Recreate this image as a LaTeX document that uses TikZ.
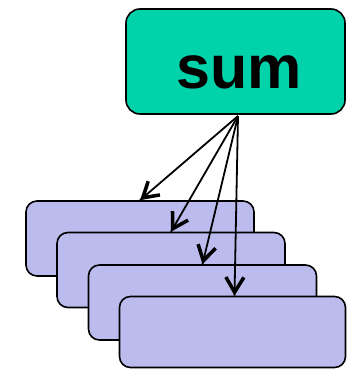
\documentclass[tikz,border=0pt]{standalone}
\usepackage{fontspec}
\setmainfont{Liberation Sans}
\usetikzlibrary{decorations.markings}
\definecolor{sumgreen}{RGB}{0,210,170}
\definecolor{partblue}{RGB}{187,187,238}
\tikzset{
  sumbox/.style={draw=black, line width=1.6pt, fill=sumgreen, rounded corners=14pt,
    minimum width=219pt, minimum height=105pt, inner sep=0pt},
  partbox/.style={draw=black, line width=1.6pt, fill=partblue, rounded corners=11pt,
    minimum width=228pt, minimum height=75pt, inner sep=0pt},
  % thin shaft ending in a solid chevron-shaped open head
  fanout/.style={line width=1.8pt, postaction={decorate},
    decoration={markings, mark=at position 1 with {
      \fill[black] (0pt,0pt) -- (-17.6pt,10.5pt) -- (-19.4pt,7.5pt) -- (-7pt,0pt)
        -- (-19.4pt,-7.5pt) -- (-17.6pt,-10.5pt) -- cycle;}}},
}
\begin{document}
\begin{tikzpicture}[x=1pt,y=-1pt]
\useasboundingbox (0,0) rectangle (347,370);
% reducer box
\node[sumbox] (sum) at (235.5,61.5) {};
\node[font=\bfseries\fontsize{61}{61}\selectfont, anchor=base, inner sep=0pt] (sumtext) at (239.5,88) {sum};
% stacked partitions, back to front
\node[partbox] (p1) at (140,238.5) {};
\node[partbox] (p2) at (171,270) {};
\node[partbox] (p3) at (202.5,302.5) {};
\node[partbox, minimum width=226pt, minimum height=71pt] (p4) at (232.5,332) {};
% fan-out arrows
\coordinate (src) at (238,116);
\draw[fanout] (src) -- (p1.north);
\draw[fanout] (src) -- (p2.north);
\draw[fanout] (src) -- (p3.north);
\draw[fanout] (src) -- ([xshift=2pt]p4.north);
\end{tikzpicture}
\end{document}
